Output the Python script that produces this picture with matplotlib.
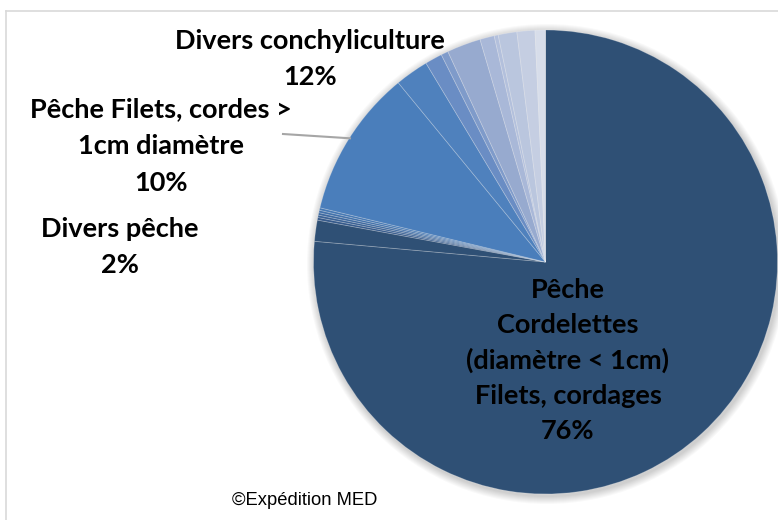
import matplotlib
matplotlib.use("Agg")
import matplotlib.pyplot as plt
from matplotlib.patches import Circle
from matplotlib.lines import Line2D

# ---- data (percent shares, clockwise from 12 o'clock) ----
slice_names = [
    "Pêche Cordelettes / Filets, cordages",
    "Divers pêche a", "Divers pêche b", "Divers pêche c", "Divers pêche d", "Divers pêche e", "Divers pêche f",
    "Pêche Filets, cordes > 1cm diamètre",
    "Divers conchyliculture a", "Divers conchyliculture b", "Divers conchyliculture c",
    "Divers conchyliculture d", "Divers conchyliculture e", "Divers conchyliculture f",
    "Divers conchyliculture g", "Divers conchyliculture h", "Divers conchyliculture i",
]
slice_values = [76.4,
                1.47, 0.18, 0.17, 0.17, 0.17, 0.17,
                10.3,
                2.33, 1.2, 0.5, 2.36, 1.0, 0.28, 1.3, 1.25, 0.72]
slice_colors = ["#2f5075",
                "#2f5075", "#35598a", "#3a6194", "#3e699f", "#4271aa", "#4678b3",
                "#4a7ebb",
                "#4f81bd", "#6a8dc4", "#7f9bca", "#97aacf", "#a9b8d8", "#b3c0dc",
                "#bac6de", "#c5cee2", "#d7ddea"]

label_lines = {
    "conch": ["Divers conchyliculture", "12%"],
    "filets": ["Pêche Filets, cordes >", "1cm diamètre", "10%"],
    "divers": ["Divers pêche", "2%"],
    "main": ["Pêche", "Cordelettes", "(diamètre < 1cm)", "Filets, cordages", "76%"],
}
credit = "©Expédition MED"

W, H = 778, 520
fig = plt.figure(figsize=(W / 100, H / 100), dpi=100)
fig.patch.set_facecolor("white")

cx, cy, R = 545.5, 262.0, 232.0  # pixel geometry of pie
ax = fig.add_axes([0, 0, 1, 1])
ax.axis("off")

# soft shadow
for i in range(8):
    r = 1 + (i + 1) * 1.0 / R
    ax.add_patch(Circle((1.5 / R, -2.0 / R), r, color="black", alpha=0.022, lw=0, zorder=1))

ax.pie(slice_values, colors=slice_colors, startangle=90, counterclock=False,
       radius=1, center=(0, 0),
       wedgeprops=dict(edgecolor=(1, 1, 1, 0.25), linewidth=0.6, zorder=2))
ax.set_xlim(-cx / R, (W - cx) / R)
ax.set_ylim(-(H - cy) / R, cy / R)
ax.set_aspect("auto")

def fp(x, y):
    return x / W, 1 - y / H

# frame
fig.add_artist(Line2D([6 / W, 6 / W], [0, 1 - 11 / H], transform=fig.transFigure, color="#d9d9d9", lw=1.2))
fig.add_artist(Line2D([6 / W, 1], [1 - 11 / H, 1 - 11 / H], transform=fig.transFigure, color="#d9d9d9", lw=1.2))

# leader line
fig.add_artist(Line2D([283 / W, 350 / W], [1 - 134 / H, 1 - 138.3 / H], transform=fig.transFigure,
                      color="#a6a6a6", lw=1.5, zorder=3))

fkw = dict(family=["Lato", "DejaVu Sans"], fontweight="bold", fontsize=19.5, color="black",
           ha="center", va="baseline")

def block(lines, x, y0, step):
    for i, t in enumerate(lines):
        fig.text(*fp(x, y0 + i * step), t, **fkw)

block(label_lines["conch"], 310, 49, 36)
block(label_lines["filets"], 161, 117, 37)
block(label_lines["divers"], 120, 237, 36)
block(label_lines["main"], 568, 298, 35.2)

fig.text(*fp(305, 505), credit, family=["Liberation Sans", "DejaVu Sans"], fontsize=13.2,
         color="black", ha="center", va="baseline")

fig.savefig("out.png", dpi=100, facecolor="white")
